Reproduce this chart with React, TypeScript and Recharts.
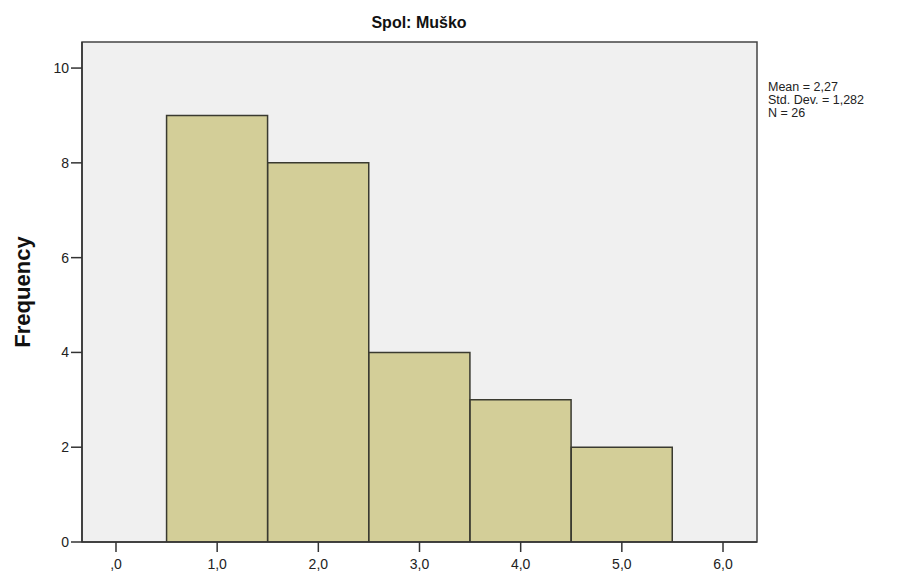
import React from "react";
import { ComposedChart, Bar, XAxis, YAxis, CartesianGrid } from "recharts";

const binCenters = [1, 2, 3, 4, 5];
const frequencies = [9, 8, 4, 3, 2];
const xTicks = [0, 1, 2, 3, 4, 5, 6];
const yTicks = [0, 2, 4, 6, 8, 10];
const statsLines = ["Mean = 2,27", "Std. Dev. = 1,282", "N = 26"];
const title = "Spol: Muško";

const data = binCenters.map((x, i) => ({ x, freq: frequencies[i] }));

const fmtX = (v: number) => {
  const s = v.toFixed(1).replace(".", ",");
  return s.startsWith("0,") ? s.slice(1) : s;
};

const FONT = "Liberation Sans, Arial, sans-serif";

export default function App() {
  return (
    <div style={{ position: "absolute", left: 0, top: 0, width: 908, height: 574, background: "#fff" }}>
      <ComposedChart
        width={908}
        height={574}
        data={data}
        margin={{ top: 42, right: 151, bottom: 0, left: 0 }}
        barCategoryGap={0}
        barGap={0}
      >
        <CartesianGrid fill="#f0f0f0" stroke="none" />
        <XAxis
          dataKey="x"
          type="number"
          domain={[-0.336, 6.336]}
          ticks={xTicks}
          tickFormatter={fmtX}
          height={32}
          interval={0}
          allowDataOverflow
          stroke="#333"
          tickLine={{ stroke: "#333", strokeWidth: 1.5 }}
          axisLine={{ stroke: "#333", strokeWidth: 1.5 }}
          tickSize={10}
          tickMargin={7}
          tick={{ fill: "#222", fontSize: 14, fontFamily: FONT }}
        />
        <YAxis
          type="number"
          domain={[0, 10.55]}
          ticks={yTicks}
          width={82}
          interval={0}
          allowDataOverflow
          stroke="#333"
          tickLine={{ stroke: "#333", strokeWidth: 1.5 }}
          axisLine={{ stroke: "#333", strokeWidth: 1.5 }}
          tickSize={11}
          tickMargin={2}
          tick={{ fill: "#222", fontSize: 14, fontFamily: FONT }}
          label={{
            value: "Frequency",
            angle: -90,
            position: "insideLeft",
            dx: 17,
            style: { fontSize: 22, fontWeight: "bold", fill: "#111", fontFamily: FONT, textAnchor: "middle" },
          }}
        />
        <Bar dataKey="freq" fill="#d3ce98" stroke="#3a3a30" strokeWidth={1.5} isAnimationActive={false} />
        <text x={419} y={28} textAnchor="middle" fontSize={16} fontWeight="bold" fill="#111" fontFamily={FONT}>
          {title}
        </text>
        {statsLines.map((s, i) => (
          <text key={s} x={768} y={91 + i * 13} fontSize={12.5} fill="#222" fontFamily={FONT}>
            {s}
          </text>
        ))}
        <rect x={82} y={42} width={675} height={500} fill="none" stroke="#444" strokeWidth={1.5} />
      </ComposedChart>
    </div>
  );
}
